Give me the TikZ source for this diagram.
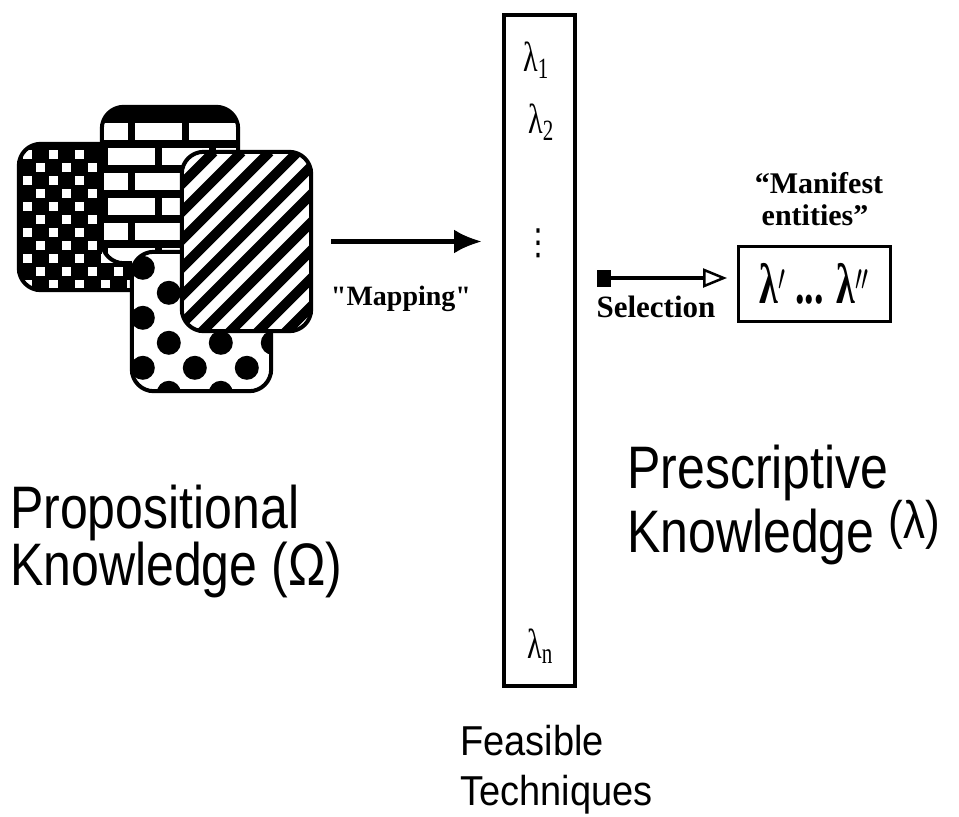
\documentclass[tikz,border=0pt]{standalone}
\usepackage{fontspec}
\setmainfont{Liberation Sans}
\newfontfamily\timesfont{Liberation Serif}
\newfontfamily\dejavu{DejaVu Sans}
\usetikzlibrary{arrows.meta, positioning}
\newcommand{\vstretch}[2][1.2]{\scalebox{1}[#1]{#2}}
\tikzset{
  tile/.style={fill=white, inner sep=0pt},
  tileborder/.style={draw, line width=4pt, rounded corners=22pt},
  bigtext/.style={font=\fontsize{50}{60}\selectfont, inner sep=0pt, anchor=base west},
  feastext/.style={font=\fontsize{38}{44}\selectfont, inner sep=0pt, anchor=base west},
  lamtext/.style={font=\timesfont\fontsize{30}{32}\selectfont, inner sep=0pt},
  serifbold/.style={font=\timesfont\bfseries\fontsize{#1}{#1}\selectfont, inner sep=0pt, anchor=base},
  maparrow/.style={line width=4.5pt, -{Latex[length=28pt, width=24pt]}, shorten <=20pt, shorten >=20pt},
  selarrow/.style={line width=4pt, {Square[length=14pt, width=17pt]}-{Triangle[open, length=24pt, width=19pt, line width=2.5pt]}, shorten <=20pt, shorten >=10pt},
}

\begin{document}
\begin{tikzpicture}[x=1pt, y=-1pt]
  \useasboundingbox (0,0) rectangle (959,817);
  % the overlapping tiles
  \node (cb) [tile, minimum width=149pt, minimum height=146pt] at (93.5,217) {};
  \begin{scope}
    \clip[rounded corners=22pt] (cb.north west) rectangle (cb.south east);
    \fill (cb.north west) rectangle (cb.south east);
    \begin{scope}[shift={(cb.north west)}]
      \foreach \i in {0,2,...,12}
        \foreach \j in {0,2,...,12} {
          \fill[white] (\i*13+4, \j*13+6) rectangle ++(9,9);
          \fill[white] (\i*13+17, \j*13+19) rectangle ++(9,9);
        }
    \end{scope}
  \end{scope}
  \draw [tileborder] (cb.north west) rectangle (cb.south east);

  \node (br) [tile, minimum width=136pt, minimum height=156pt] at (170,185) {};
  \begin{scope}
    \clip[rounded corners=22pt] (br.north west) rectangle (br.south east);
    \fill (br.north west) rectangle (br.south east);
    \begin{scope}[shift={(br.north west)}]
      \foreach \j/\off in {0/-21,1/6,2/-21,3/6,4/-21,5/6,6/-21}
        \foreach \i in {0,...,3}
          \fill[white] (\off+\i*54, 16+\j*25) rectangle ++(47,17);
    \end{scope}
  \end{scope}
  \draw [tileborder] (br.north west) rectangle (br.south east);

  \node (dt) [tile, minimum width=139pt, minimum height=139pt] at (201.5,321.5) {};
  \begin{scope}
    \clip[rounded corners=22pt] (dt.north west) rectangle (dt.south east);
    \begin{scope}[shift={(dt.north west)}]
      \foreach \j/\off in {-1/11,0/37,1/11,2/37,3/11,4/37}
        \foreach \i in {0,...,3}
          \fill (\off+\i*52, 41+\j*25) circle (12pt);
    \end{scope}
  \end{scope}
  \draw [tileborder] (dt.north west) rectangle (dt.south east);

  \node (st) [tile, minimum width=129pt, minimum height=179pt] at (246.5,241.5) {};
  \begin{scope}
    \clip[rounded corners=22pt] (st.north west) rectangle (st.south east);
    \begin{scope}[shift={(st.north west)}]
      \foreach \k in {-8,...,12}
        \draw[line width=10pt] (\k*28, 200) -- ++(200,-200);
    \end{scope}
  \end{scope}
  \draw [tileborder] (st.north west) rectangle (st.south east);

  \node (prop1) [bigtext] at (10,528) {\vstretch{Propositional}};
  \node (prop2) [bigtext] at (10,585) {\vstretch{Knowledge (Ω)}};

  % column of techniques
  \node (col) [draw, line width=4pt, minimum width=71pt, minimum height=671pt, inner sep=0pt] at (539.5,350.5) {};
  \node (lam1) [lamtext] at (536,60) {\vstretch[1.4]{λ\textsubscript{1}}};
  \node (lam2) [lamtext] at (541,122) {\vstretch[1.4]{λ\textsubscript{2}}};
  \node (lamdots) [lamtext] at (538,243) {\vstretch{\dejavu ⋮}};
  \node (lamn) [lamtext] at (540,646) {\vstretch[1.4]{λ\textsubscript{n}}};
  \node (feas1) [feastext] at (460,755) {\vstretch[1.1]{Feasible}};
  \node (feas2) [feastext] at (460,805) {\vstretch[1.1]{Techniques}};

  \draw [maparrow] (st.east) -- (col.west |- st.east);
  \node (maplbl) [serifbold=28] at (401,305) {"Mapping"};

  % selected entities
  \node (mbox) [draw, line width=3pt, minimum width=152pt, minimum height=75pt, inner sep=0pt, font=\timesfont\bfseries\fontsize{38}{40}\selectfont] at (814.5,284) {\vstretch[1.5]{λ$'$ ... λ$''$}};
  \node (man1) [serifbold=30] at (819,193) {“Manifest};
  \node (man2) [serifbold=30] at (815,225) {entities”};
  \coordinate (selend) at ([yshift=6pt]mbox.west);
  \draw [selarrow] (selend -| col.east) -- (selend);
  \node (sellbl) [serifbold=31] at (656,317) {Selection};

  \node (presc1) [bigtext] at (627,488) {\vstretch{Prescriptive}};
  \node (presc2) [bigtext] at (627,552) {\vstretch{Knowledge \raisebox{11pt}{\fontsize{44}{44}\selectfont(λ)}}};
\end{tikzpicture}
\end{document}
